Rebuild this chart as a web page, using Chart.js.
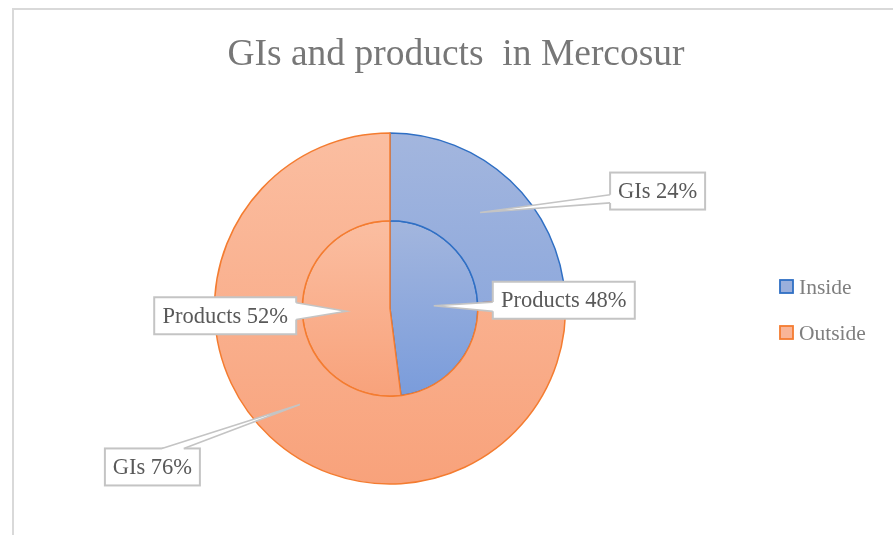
<!DOCTYPE html>
<html>
<head>
<meta charset="utf-8">
<script src="https://cdn.jsdelivr.net/npm/chart.js@4.4.1/dist/chart.umd.min.js"></script>
<style>
  html, body { margin: 0; padding: 0; background: #ffffff; }
  #wrap { width: 893px; height: 535px; position: relative; }
</style>
</head>
<body>
<div id="wrap"><canvas id="c"></canvas></div>
<script>
// ---- data ----
const chartTitle = 'GIs and products  in Mercosur';
const categories = ['Inside', 'Outside'];
const seriesNames = ['GIs', 'Products'];
const giValues = [24, 76];
const productValues = [48, 52];

// ---- styles ----
const FONT = '"Liberation Serif", "Times New Roman", serif';
const fillTop = ['#a3b6de', '#fbbea1'];
const fillBottom = ['#7a9cdb', '#f8a27b'];
const borderColors = ['#2f6fc4', '#f47c30'];

function gradientFor(ctx) {
  const chart = ctx.chart;
  const area = chart.chartArea;
  const i = ctx.dataIndex;
  if (!area) return fillTop[i];
  const cy = (area.top + area.bottom) / 2;
  const full = (area.bottom - area.top) / 2;
  const r = ctx.datasetIndex === 0 ? full : full / 2;
  const g = chart.ctx.createLinearGradient(0, cy - r, 0, cy + r);
  g.addColorStop(0, fillTop[i]);
  g.addColorStop(1, fillBottom[i]);
  return g;
}

// callout placement relative to each arc's centroid (layout only)
const calloutLayout = {
  '0-0': { dx: 130, dy: -40, side: 'left', b1: 0.6, b2: 0.82 },
  '0-1': { dx: -195, dy: 44, side: 'top', b1: 0.6, b2: 0.83 },
  '1-0': { dx: 59, dy: -24, side: 'left', b1: 0.55, b2: 0.8 },
  '1-1': { dx: -50, dy: -14, side: 'right', b1: 0.15, b2: 0.6 }
};

const decorPlugin = {
  id: 'decor',
  beforeDraw(chart) {
    const c = chart.ctx;
    c.save();
    c.strokeStyle = '#d9d9d9';
    c.lineWidth = 2;
    c.beginPath();
    c.moveTo(13, 540);
    c.lineTo(13, 9);
    c.lineTo(900, 9);
    c.stroke();
    // title
    c.fillStyle = '#777777';
    c.font = '37.5px ' + FONT;
    c.textAlign = 'center';
    c.textBaseline = 'alphabetic';
    c.fillText(chartTitle, 456, 65);
    c.restore();
  },
  afterDraw(chart) {
    const c = chart.ctx;
    c.save();
    // legend
    c.font = '21.5px ' + FONT;
    c.textBaseline = 'alphabetic';
    c.textAlign = 'left';
    categories.forEach((name, i) => {
      const y = 280 + i * 46;
      c.fillStyle = i === 0 ? '#9aafdc' : '#f9b597';
      c.fillRect(780, y, 13, 13);
      c.strokeStyle = borderColors[i];
      c.lineWidth = 1.8;
      c.strokeRect(780, y, 13, 13);
      c.fillStyle = '#7f7f7f';
      c.fillText(name, 799, y + 14);
    });
    // callouts
    const datasets = chart.data.datasets;
    c.font = '22.5px ' + FONT;
    datasets.forEach((ds, di) => {
      const meta = chart.getDatasetMeta(di);
      meta.data.forEach((arc, i) => {
        const lay = calloutLayout[di + '-' + i];
        if (!lay) return;
        const tip = arc.tooltipPosition(true);
        const text = seriesNames[di] + ' ' + ds.data[i] + '%';
        const tw = c.measureText(text).width;
        const w = Math.round(tw + 16), h = 37;
        let x, y = tip.y + lay.dy;
        if (lay.side === 'right') x = tip.x + lay.dx - w; else x = tip.x + lay.dx;
        // box
        c.fillStyle = '#ffffff';
        c.strokeStyle = '#c4c4c4';
        c.lineWidth = 2;
        c.fillRect(x, y, w, h);
        c.strokeRect(x, y, w, h);
        // wedge
        let p1, p2, q1, q2;
        if (lay.side === 'left') {
          p1 = [x, y + h * lay.b1]; p2 = [x, y + h * lay.b2];
          q1 = [x + 3, p1[1]]; q2 = [x + 3, p2[1]];
        } else if (lay.side === 'right') {
          p1 = [x + w, y + h * lay.b1]; p2 = [x + w, y + h * lay.b2];
          q1 = [x + w - 3, p1[1]]; q2 = [x + w - 3, p2[1]];
        } else {
          p1 = [x + w * lay.b1, y]; p2 = [x + w * lay.b2, y];
          q1 = [p1[0], y + 3]; q2 = [p2[0], y + 3];
        }
        c.beginPath();
        c.moveTo(q1[0], q1[1]);
        c.lineTo(p1[0], p1[1]);
        c.lineTo(tip.x, tip.y);
        c.lineTo(p2[0], p2[1]);
        c.lineTo(q2[0], q2[1]);
        c.closePath();
        c.fillStyle = '#ffffff';
        c.fill();
        c.beginPath();
        c.moveTo(p1[0], p1[1]);
        c.lineTo(tip.x, tip.y);
        c.lineTo(p2[0], p2[1]);
        c.lineWidth = 1.6;
        c.strokeStyle = '#c4c4c4';
        c.stroke();
        // text
        c.fillStyle = '#595959';
        c.textAlign = 'center';
        c.textBaseline = 'middle';
        c.fillText(text, x + w / 2, y + h / 2 + 1);
      });
    });
    c.restore();
  }
};

new Chart(document.getElementById('c'), {
  type: 'doughnut',
  data: {
    labels: categories,
    datasets: [
      { label: seriesNames[0], data: giValues, backgroundColor: gradientFor, borderColor: borderColors, borderWidth: 1.5 },
      { label: seriesNames[1], data: productValues, backgroundColor: gradientFor, borderColor: borderColors, borderWidth: 1.5 }
    ]
  },
  options: {
    responsive: true,
    maintainAspectRatio: false,
    animation: false,
    cutout: 0,
    radius: 175.5,
    layout: { padding: { left: 215, right: 328, top: 133, bottom: 51 } },
    plugins: {
      legend: { display: false },
      title: { display: false },
      tooltip: { enabled: false }
    }
  },
  plugins: [decorPlugin]
});
</script>
</body>
</html>
